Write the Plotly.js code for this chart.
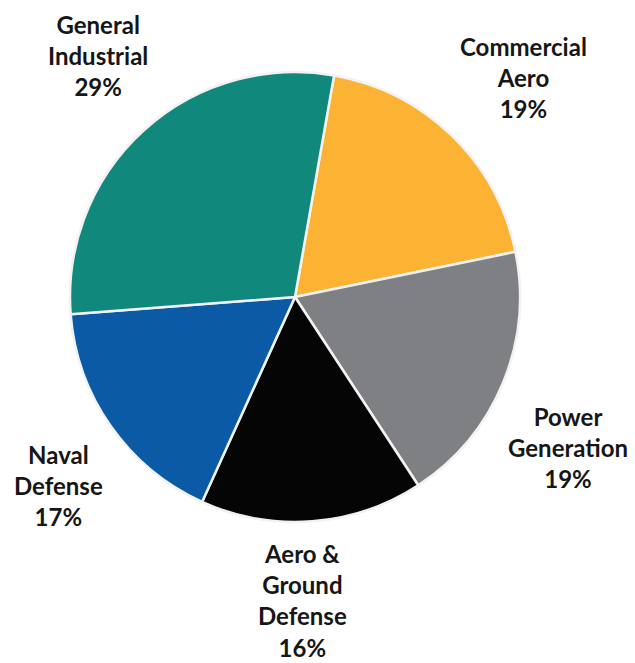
<!DOCTYPE html>
<html>
<head>
<meta charset="utf-8">
<script src="https://cdn.plot.ly/plotly-3.0.1.min.js"></script>
<style>html,body{margin:0;padding:0;background:#fff;}#chart{width:635px;height:663px;}</style>
</head>
<body>
<div id="chart"></div>
<script>
// Data (clockwise order starting near 12 o'clock)
const categories = ["Commercial Aero", "Power Generation", "Aero & Ground Defense", "Naval Defense", "General Industrial"];
const shares = [19, 19, 16, 17, 29];
const labelLines = ["Commercial<br>Aero", "Power<br>Generation", "Aero &<br>Ground<br>Defense", "Naval<br>Defense", "General<br>Industrial"];
const colors = ["#fcb334", "#7e8083", "#050505", "#0b5aa6", "#11887c"];

// label placement (paper px, center of text block)
const labelPos = [[523, 77], [568, 447], [302, 600], [58, 486], [98, 55]];

const W = 635, H = 663;
const cx = 295, cy = 297, R = 225;

const annotations = categories.map((c, i) => ({
  xref: 'paper', yref: 'paper',
  x: labelPos[i][0] / W, y: 1 - labelPos[i][1] / H,
  xanchor: 'center', yanchor: 'middle',
  text: '<b>' + labelLines[i] + '<br>' + shares[i] + '%</b>',
  showarrow: false,
  align: 'center',
  font: {family: 'Lato, sans-serif', size: 24, color: '#161616'}
}));

const trace = {
  type: 'pie',
  labels: categories,
  values: shares,
  sort: false,
  direction: 'clockwise',
  rotation: 10,
  marker: {colors: colors, line: {color: '#f2f2f2', width: 2.5}},
  textinfo: 'none',
  hoverinfo: 'label+percent',
  showlegend: false,
  domain: {x: [(cx - R) / W, (cx + R) / W], y: [(H - cy - R) / H, (H - cy + R) / H]}
};

Plotly.newPlot('chart', [trace], {
  width: W, height: H,
  margin: {l: 0, r: 0, t: 0, b: 0},
  paper_bgcolor: '#ffffff',
  showlegend: false,
  annotations: annotations
}, {displayModeBar: false, staticPlot: true});
</script>
</body>
</html>
